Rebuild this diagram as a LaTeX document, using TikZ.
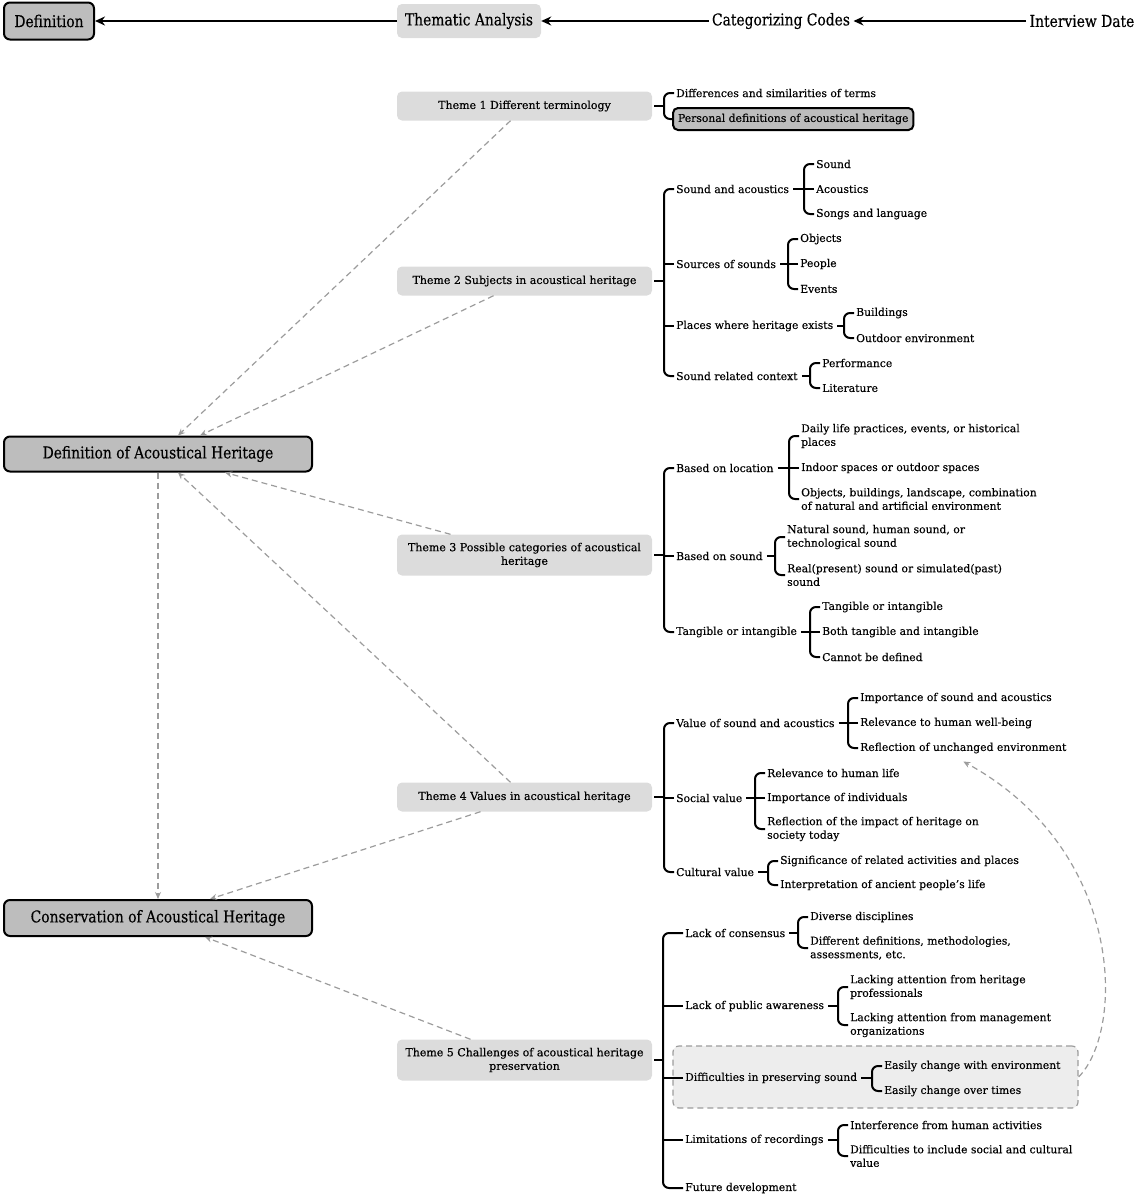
\documentclass[tikz,border=0pt]{standalone}
\usepackage{fontspec}
\setmainfont{DejaVu Serif}[FakeBold=0.35]
\newfontfamily\headfont[FakeStretch=0.85, FakeBold=0.35]{DejaVu Serif}
\usetikzlibrary{arrows.meta}

\definecolor{boxdark}{HTML}{BDBDBD}
\definecolor{boxlight}{HTML}{DCDCDC}
\definecolor{boxpale}{HTML}{EDEDED}
\definecolor{linkgray}{HTML}{9C9C9C}

\tikzset{
  leaf/.style={anchor=west, inner sep=2pt, align=left, yshift=-1pt,
    font=\fontsize{10.8}{13.6}\selectfont},
  theme/.style={fill=boxlight, rounded corners=5pt, minimum width=255pt, minimum height=29pt,
    align=center, font=\fontsize{11}{13.6}\selectfont},
  keybox/.style={draw, line width=2pt, fill=boxdark, rounded corners=6pt,
    font=\headfont\fontsize{16.3}{19}\selectfont},
  head/.style={font=\headfont\fontsize{16.3}{19}\selectfont},
  flow/.style={line width=2.4pt, -{Stealth[length=10pt,width=9pt]}},
  link/.style={draw=linkgray, line width=1.2pt, dash pattern=on 6pt off 4pt,
    -{Stealth[length=7pt,width=6pt]}},
  dashbox/.style={draw=linkgray, line width=1.2pt, dash pattern=on 6pt off 4pt,
    fill=boxpale, rounded corners=6pt},
  br/.style={line width=2pt}
}

% #1 stub length, #2 parent, #3 first child, #4 last child
\newcommand\branch[4][10]{%
  \draw[br, rounded corners=6pt] (#3.west) -- ++(-#1,0) |- (#4.west);
  \draw[br, shorten <=2pt, shorten >=#1pt] (#2.east) -- (#2.east -| #3.west);
}

\begin{document}
\begin{tikzpicture}[x=1pt, y=-1pt]
  \useasboundingbox (0,0) rectangle (1138,1200);

  % top row
  \node[keybox, minimum width=90pt, minimum height=37pt] (defn) at (49,21) {Definition};
  \node[fill=boxlight, rounded corners=5pt, minimum width=144pt, minimum height=34pt, head] (thema) at (469,21) {Thematic Analysis};
  \node[head] (codes) at (781,21) {Categorizing Codes};
  \node[head] (interview) at (1082,21) {Interview Date};
  \draw[flow] (interview) -- (codes);
  \draw[flow] (codes) -- (thema);
  \draw[flow] (thema) -- (defn);

  % the two main boxes
  \node[keybox, minimum width=308pt, minimum height=35pt] (def) at (158,454) {Definition of Acoustical Heritage};
  \node[keybox, minimum width=308pt, minimum height=36pt] (cons) at (158,918) {Conservation of Acoustical Heritage};

  % themes
  \node[theme] (t1) at (524.5,106) {Theme 1 Different terminology};
  \node[theme] (t2) at (524.5,281) {Theme 2 Subjects in acoustical heritage};
  \node[theme, minimum height=41pt] (t3) at (524.5,555) {Theme 3 Possible categories of acoustical\\heritage};
  \node[theme] (t4) at (524.5,797) {Theme 4 Values in acoustical heritage};
  \node[theme, minimum height=41pt] (t5) at (524.5,1060) {Theme 5 Challenges of acoustical heritage\\preservation};

  % dashed links
  \draw[link] ([xshift=-14pt]t1.south) -- ([xshift=20pt]def.north);
  \draw[link] ([xshift=-31pt]t2.south) -- ([xshift=42pt]def.north);
  \draw[link] ([xshift=-74pt]t3.north) -- ([xshift=67pt]def.south);
  \draw[link] ([xshift=-14pt]t4.north) -- ([xshift=20pt]def.south);
  \draw[link] (def.south) -- (cons.north);
  \draw[link] ([xshift=-44pt]t4.south) -- ([xshift=52pt]cons.north);
  \draw[link] ([xshift=-54pt]t5.north) -- ([xshift=47pt]cons.south);

  % theme 1
  \node[leaf] (t1a) at (674,92) {Differences and similarities of terms};
  \node[leaf, draw, line width=2pt, fill=boxdark, rounded corners=5pt, inner xsep=5pt, minimum height=22pt, yshift=1pt] (t1b) at (672,119) {Personal definitions of acoustical heritage};
  \branch{t1}{t1a}{t1b}

  % theme 2
  \node[leaf] (t2a) at (674,188) {Sound and acoustics};
  \node[leaf] (t2b) at (674,263) {Sources of sounds};
  \node[leaf] (t2c) at (674,325) {Places where heritage exists};
  \node[leaf] (t2d) at (674,375) {Sound related context};
  \branch{t2}{t2a}{t2d}
  \foreach \c in {t2b,t2c} \draw[br] (\c.west) -- ++(-10,0);

  \node[leaf] (t2a1) at (814,163) {Sound};
  \node[leaf] (t2a2) at (814,188) {Acoustics};
  \node[leaf] (t2a3) at (814,213) {Songs and language};
  \branch{t2a}{t2a1}{t2a3}
  \draw[br] (t2a2.west) -- ++(-10,0);

  \node[leaf] (t2b1) at (798,238) {Objects};
  \node[leaf] (t2b2) at (798,263) {People};
  \node[leaf] (t2b3) at (798,288) {Events};
  \branch{t2b}{t2b1}{t2b3}
  \draw[br] (t2b2.west) -- ++(-10,0);

  \node[leaf] (t2c1) at (854,312) {Buildings};
  \node[leaf] (t2c2) at (854,337) {Outdoor environment};
  \branch{t2c}{t2c1}{t2c2}

  \node[leaf] (t2d1) at (820,362) {Performance};
  \node[leaf] (t2d2) at (820,387) {Literature};
  \branch{t2d}{t2d1}{t2d2}

  % theme 3
  \node[leaf] (t3a) at (674,467) {Based on location};
  \node[leaf] (t3b) at (674,555) {Based on sound};
  \node[leaf] (t3c) at (674,631) {Tangible or intangible};
  \branch{t3}{t3a}{t3c}
  \draw[br] (t3b.west) -- ++(-10,0);

  \node[leaf] (t3a1) at (799,435) {Daily life practices, events, or historical\\places};
  \node[leaf] (t3a2) at (799,467) {Indoor spaces or outdoor spaces};
  \node[leaf] (t3a3) at (799,498) {Objects, buildings, landscape, combination\\of natural and artificial environment};
  \branch{t3a}{t3a1}{t3a3}
  \draw[br] (t3a2.west) -- ++(-10,0);

  \node[leaf] (t3b1) at (785,536) {Natural sound, human sound, or\\technological sound};
  \node[leaf] (t3b2) at (785,574) {Real(present) sound or simulated(past)\\sound};
  \branch{t3b}{t3b1}{t3b2}

  \node[leaf] (t3c1) at (820,606) {Tangible or intangible};
  \node[leaf] (t3c2) at (820,631) {Both tangible and intangible};
  \node[leaf] (t3c3) at (820,656) {Cannot be defined};
  \branch{t3c}{t3c1}{t3c3}
  \draw[br] (t3c2.west) -- ++(-10,0);

  % theme 4
  \node[leaf] (t4a) at (674,722) {Value of sound and acoustics};
  \node[leaf] (t4b) at (674,797) {Social value};
  \node[leaf] (t4c) at (674,871) {Cultural value};
  \branch{t4}{t4a}{t4c}
  \draw[br] (t4b.west) -- ++(-10,0);

  \node[leaf] (t4a1) at (858,697) {Importance of sound and acoustics};
  \node[leaf] (t4a2) at (858,722) {Relevance to human well-being};
  \node[leaf] (t4a3) at (858,747) {Reflection of unchanged environment};
  \branch{t4a}{t4a1}{t4a3}
  \draw[br] (t4a2.west) -- ++(-10,0);

  \node[leaf] (t4b1) at (765,772) {Relevance to human life};
  \node[leaf] (t4b2) at (765,797) {Importance of individuals};
  \node[leaf] (t4b3) at (765,828) {Reflection of the impact of heritage on\\society today};
  \branch{t4b}{t4b1}{t4b3}
  \draw[br] (t4b2.west) -- ++(-10,0);

  \node[leaf] (t4c1) at (778,860) {Significance of related activities and places};
  \node[leaf] (t4c2) at (778,884) {Interpretation of ancient people’s life};
  \branch{t4c}{t4c1}{t4c2}

  % theme 5
  \node[dashbox, minimum width=405pt, minimum height=62pt] (diffbox) at (875.5,1077) {};

  \node[leaf] (t5a) at (683,932) {Lack of consensus};
  \node[leaf] (t5b) at (683,1005) {Lack of public awareness};
  \node[leaf] (t5c) at (683,1077) {Difficulties in preserving sound};
  \node[leaf] (t5d) at (683,1139) {Limitations of recordings};
  \node[leaf] (t5e) at (683,1187) {Future development};
  \branch[20]{t5}{t5a}{t5e}
  \foreach \c in {t5b,t5c,t5d} \draw[br] (\c.west) -- ++(-20,0);

  \node[leaf] (t5a1) at (808,916) {Diverse disciplines};
  \node[leaf] (t5a2) at (808,947) {Different definitions, methodologies,\\assessments, etc.};
  \branch{t5a}{t5a1}{t5a2}

  \node[leaf] (t5b1) at (848,986) {Lacking attention from heritage\\professionals};
  \node[leaf] (t5b2) at (848,1024) {Lacking attention from management\\organizations};
  \branch{t5b}{t5b1}{t5b2}

  \node[leaf] (t5c1) at (882,1065) {Easily change with environment};
  \node[leaf] (t5c2) at (882,1090) {Easily change over times};
  \branch{t5c}{t5c1}{t5c2}

  \node[leaf] (t5d1) at (848,1124) {Interference from human activities};
  \node[leaf] (t5d2) at (848,1155) {Difficulties to include social and cultural\\value};
  \branch{t5d}{t5d1}{t5d2}

  % feedback curve
  \draw[link] (diffbox.east) .. controls (1125,1030) and (1125,850) .. ([yshift=-6pt]t4a3.south);

\end{tikzpicture}
\end{document}
